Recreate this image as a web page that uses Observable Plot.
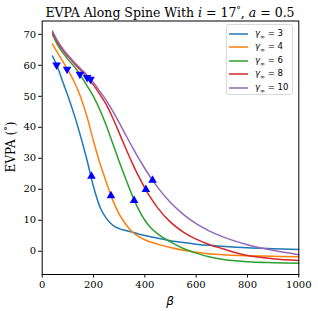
<!DOCTYPE html>
<html><head><meta charset="utf-8">
<script src="https://cdn.jsdelivr.net/npm/d3@7"></script>
<script src="https://cdn.jsdelivr.net/npm/@observablehq/plot@0.6"></script>
<style>
body{margin:0;background:#fff;}
#wrap{position:relative;width:318px;height:314px;font-family:"DejaVu Serif";color:#000;}
#title{position:absolute;top:3px;left:41.7px;width:256.6px;text-align:center;font-size:12.5px;white-space:nowrap;line-height:15px;}
#ylab{position:absolute;left:10px;top:147px;transform:translate(-50%,-50%) rotate(-90deg);font-size:12px;white-space:nowrap;}
#xlab{position:absolute;left:170px;top:301px;transform:translate(-50%,-50%);font-size:12px;font-family:"DejaVu Sans";font-style:italic;}
#legend{position:absolute;left:226px;top:24px;width:67px;height:71px;border:1px solid #d9d9d9;border-radius:3px;background:rgba(255,255,255,0.8);box-sizing:border-box;}
.le{position:absolute;left:2px;height:12px;display:flex;align-items:center;font-family:"DejaVu Sans";font-size:8.5px;white-space:nowrap;}
.le svg{margin-right:7px;}
</style>
</head><body>
<div id="wrap">
  <div id="title">EVPA Along Spine With <i>i</i> = 17<span style="font-size:9px;vertical-align:4px">°</span>, <i>a</i> = 0.5</div>
  <div id="chart"></div>
  <div id="ylab">EVPA (<span style="font-size:9px;vertical-align:4px">°</span>)</div>
  <div id="xlab">β</div>
  <div id="legend"></div>
</div>
<script>
const betas = [40, 60, 80, 100, 125, 150, 175, 200, 225, 250, 275, 300, 325, 350, 375, 400, 425, 450, 500, 550, 600, 650, 700, 800, 900, 1000];
const gammas = [3, 4, 6, 8, 10];
const colors = ["#1f77b4", "#ff7f0e", "#2ca02c", "#d62728", "#9467bd"];
const evpa3  = [63.0, 59.4, 54.7, 50.2, 44.0, 37.0, 29.3, 20.8, 14.3, 10.6, 8.4, 7.3, 6.7, 6.2, 5.6, 5.1, 4.6, 4.2, 3.4, 2.8, 2.3, 1.9, 1.6, 1.1, 0.8, 0.55];
const evpa4  = [66.9, 64.0, 61.3, 58.5, 54.6, 49.7, 43.3, 35.5, 28.4, 22.3, 16.5, 12.0, 8.8, 6.3, 4.8, 3.7, 2.9, 2.3, 1.2, 0.3, -0.3, -0.8, -1.1, -1.45, -1.65, -1.8];
const evpa6  = [70.0, 66.6, 64.1, 62.0, 59.6, 56.7, 53.4, 49.9, 45.6, 40.5, 34.8, 29.0, 23.5, 18.2, 13.6, 10.0, 7.4, 5.6, 3.0, 0.9, -0.6, -1.8, -2.6, -3.4, -3.7, -3.85];
const evpa8  = [70.6, 67.4, 64.9, 62.9, 60.6, 58.4, 56.1, 53.6, 50.6, 47.3, 43.0, 38.2, 33.3, 28.6, 24.3, 20.4, 17.0, 14.0, 9.4, 6.2, 3.9, 2.2, 0.9, -1.4, -2.4, -3.0];
const evpa10 = [71.1, 67.9, 65.4, 63.3, 61.0, 58.9, 56.8, 54.4, 51.6, 48.6, 45.2, 41.5, 37.6, 33.8, 30.1, 26.7, 23.5, 20.6, 15.7, 11.9, 8.9, 6.6, 4.8, 2.1, 0.3, -1.1];
const downBeta = [56, 97, 147, 175, 188];
const downEvpa = [60.1, 58.7, 57.1, 56.1, 55.5];
const upBeta = [192, 268, 358, 404, 430];
const upEvpa = [24.2, 17.9, 16.4, 19.9, 22.9];
const xTicks = [0, 200, 400, 600, 800, 1000];
const yTicks = [0, 10, 20, 30, 40, 50, 60, 70];

const series = [evpa3, evpa4, evpa6, evpa8, evpa10];
const rows = [];
series.forEach((s, k) => s.forEach((v, i) => rows.push({beta: betas[i], evpa: v, g: gammas[k]})));
const down = downBeta.map((b, i) => ({beta: b, evpa: downEvpa[i]}));
const up = upBeta.map((b, i) => ({beta: b, evpa: upEvpa[i]}));

const chart = Plot.plot({
  width: 318, height: 314,
  marginLeft: 41.7, marginRight: 19.7, marginTop: 20.5, marginBottom: 40,
  style: {fontFamily: "DejaVu Serif", fontSize: "10px", background: "transparent", color: "#000", overflow: "visible"},
  x: {domain: [0, 1000], ticks: xTicks, tickFormat: d => String(d), label: null, tickSize: 3.5, tickPadding: 2.5},
  y: {domain: [-7.5, 74.3], ticks: yTicks, tickFormat: d => String(d), label: null, tickSize: 3.5, tickPadding: 2.5},
  color: {domain: gammas, range: colors},
  marks: [
    Plot.line(rows, {x: "beta", y: "evpa", z: "g", stroke: "g", strokeWidth: 1.5, curve: "monotone-x"}),
    Plot.dot(down, {x: "beta", y: "evpa", symbol: "triangle", r: 3.2, fill: "#0000ff", rotate: 180}),
    Plot.dot(up, {x: "beta", y: "evpa", symbol: "triangle", r: 3.2, fill: "#0000ff"}),
    Plot.frame({stroke: "#000", strokeWidth: 1, strokeOpacity: 1}),
    Plot.axisX({ticks: xTicks, tickSize: 3.5, tickPadding: 2.5, tickFormat: d => String(d), label: null}),
    Plot.axisY({ticks: yTicks, tickSize: 3.5, tickPadding: 2.5, tickFormat: d => String(d), label: null})
  ]
});
document.getElementById("chart").appendChild(chart);

const legend = document.getElementById("legend");
gammas.forEach((g, k) => {
  const d = document.createElement("div");
  d.className = "le";
  d.style.top = (2.5 + k * 13.6) + "px";
  d.innerHTML = `<svg width="19" height="4"><line x1="0" x2="19" y1="2" y2="2" stroke="${colors[k]}" stroke-width="1.5"/></svg><span><i>γ</i><sub style="font-size:6px">∞</sub> = ${g}</span>`;
  legend.appendChild(d);
});
</script>
</body></html>
